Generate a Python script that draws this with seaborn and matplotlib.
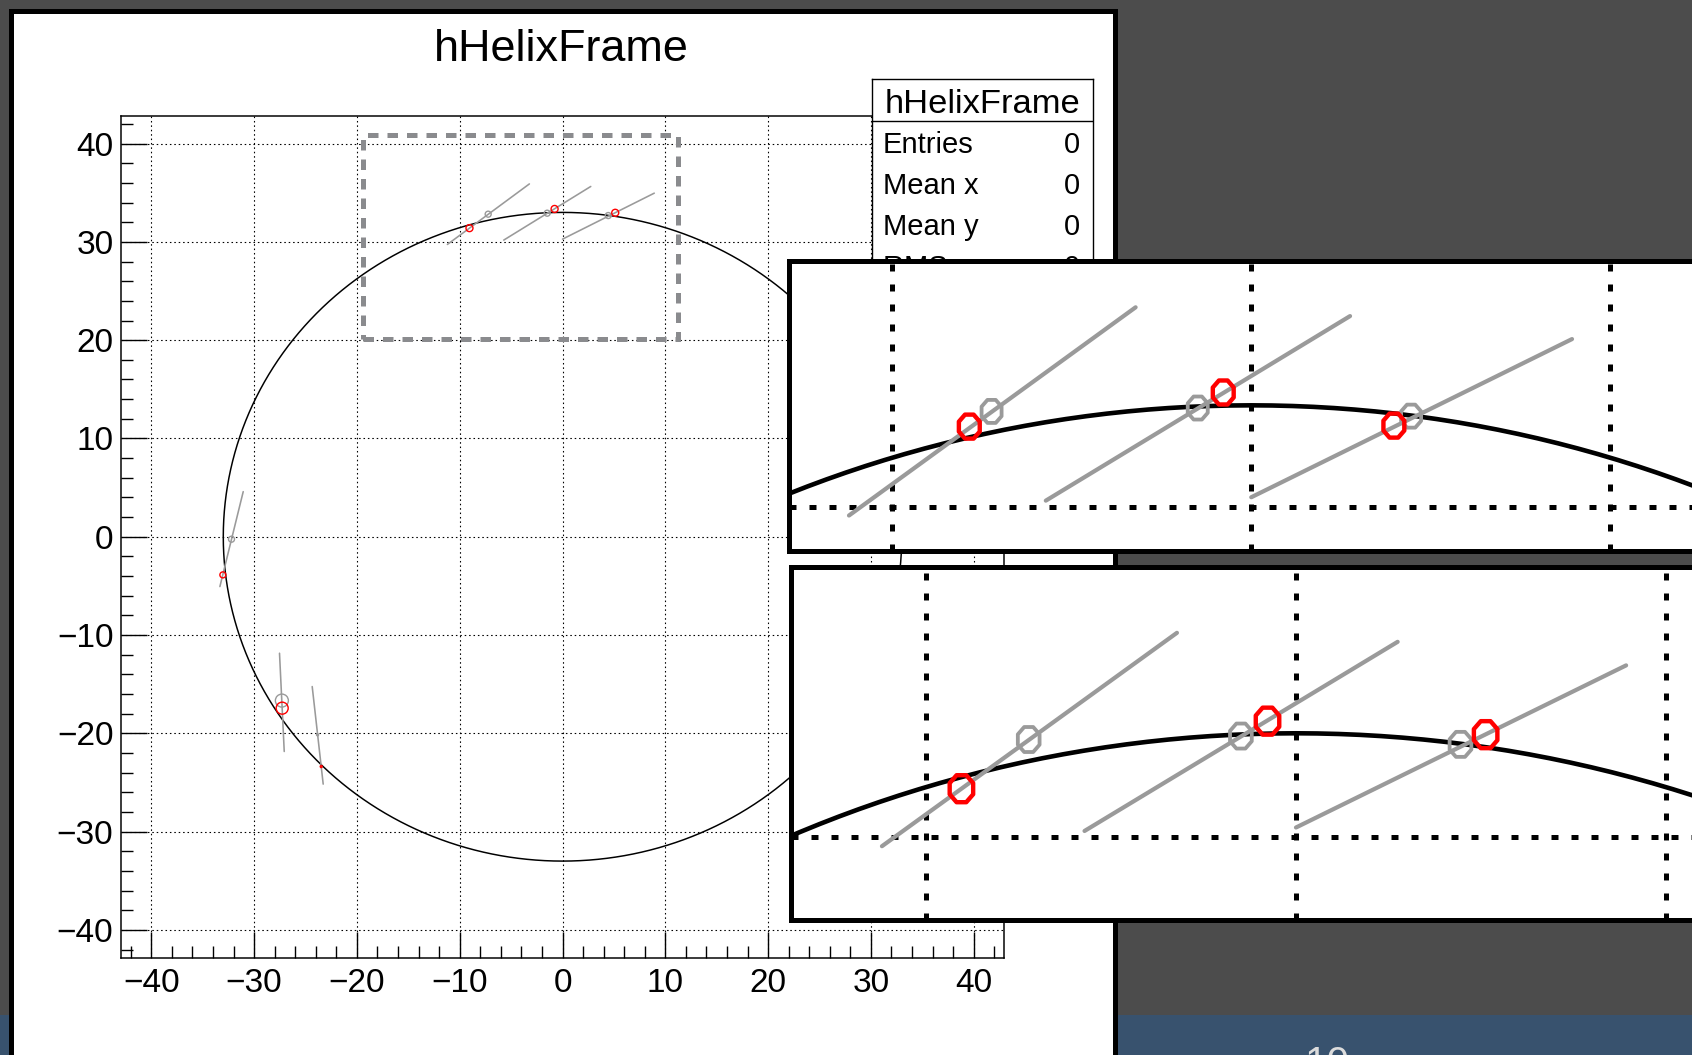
import numpy as np
import pandas as pd
import matplotlib
matplotlib.use("Agg")
import matplotlib.pyplot as plt
from matplotlib.patches import Rectangle
from matplotlib.path import Path
from matplotlib.ticker import MultipleLocator
import seaborn as sns

W, H = 1692, 1055

# ---------------- data ----------------
TITLE = "hHelixFrame"
X_TICKS = [-40, -30, -20, -10, 0, 10, 20, 30, 40]
Y_TICKS = [-40, -30, -20, -10, 0, 10, 20, 30, 40]
X_RANGE = (-42.95, 42.95)
Y_RANGE = (-42.86, 42.86)

HELIX_RADIUS = 33.0
HELIX_CENTER = (0.0, 0.0)

# grey track segments: start / end points
SEG_X0 = [-11.20, -5.72, 0.00, -31.06, -27.53, -24.35]
SEG_Y0 = [29.74, 30.18, 30.28, 4.59, -11.85, -15.24]
SEG_X1 = [-3.22, 2.75, 8.93, -33.33, -27.07, -23.28]
SEG_Y1 = [35.90, 35.64, 34.96, -5.07, -21.85, -25.17]

# grey hit markers
GREY_X = [-7.23, -1.49, 4.45, -32.20, -27.30, -23.83]
GREY_Y = [32.82, 32.92, 32.68, -0.25, -16.67, -20.15]

# red (helix-projected) markers, main view / lower inset
RED_X = [-9.05, -0.77, 5.13, -33.04, -27.27, -23.47]
RED_Y = [31.40, 33.35, 32.96, -3.88, -17.44, -23.38]

# red markers shown in the upper inset
RED_ALT_X = [-7.85, -0.78, 3.97]
RED_ALT_Y = [32.37, 33.38, 32.40]

# zoom box drawn on the main view
ZOOM_BOX_X = (-19.38, 11.27)
ZOOM_BOX_Y = (20.11, 40.87)

# inset view ranges
INSET1_XLIM = (-12.87, 13.05)
INSET1_YLIM = (28.69, 37.27)
INSET2_XLIM = (-13.66, 11.47)
INSET2_YLIM = (27.61, 37.80)
INSET_GRID_X = [-10, 0, 10]
INSET_GRID_Y = [30]

STATS_LABELS = ["Entries", "Mean x", "Mean y", "RMS x", "RMS y"]
STATS_VALUES = ["0", "0", "0", "0", "0"]
PAGE_NUMBER = "10"

# ---------------- style ----------------
sns.set_theme(style="white")
plt.rcParams["font.family"] = ["Liberation Sans", "DejaVu Sans"]
plt.rcParams["axes.unicode_minus"] = True

BG = "#4c4c4c"
BAR = "#38526e"
GREY = "#9a9a9a"
RED = "#ff0000"
PX = 0.72  # points per pixel at dpi 100

fig = plt.figure(figsize=(W / 100, H / 100), dpi=100, facecolor=BG)


def fbox(l, t, r, b):
    return [l / W, 1 - b / H, (r - l) / W, (b - t) / H]


def frect(l, t, r, b, **kw):
    x, y, w, h = fbox(l, t, r, b)
    p = Rectangle((x, y), w, h, transform=fig.transFigure, **kw)
    fig.add_artist(p)
    return p


# slide decorations
frect(0, 1015, W, H + 5, fc=BAR, ec="none", zorder=-6)
frect(10.5, 10.5, 1114.5, 1075, fc="white", ec="black", lw=5 * PX, zorder=-5)
fig.text(1327 / W, 1 - 1045 / H, PAGE_NUMBER, ha="center", va="top",
         color="#dcdcdc", fontsize=29, zorder=-4)

# title
fig.text(561 / W, 1 - 61 / H, TITLE, ha="center", va="baseline",
         fontsize=32.4, color="black")

# ---------------- main frame ----------------
theta = np.linspace(0, 2 * np.pi, 721)
circle_df = pd.DataFrame({
    "x": HELIX_CENTER[0] + HELIX_RADIUS * np.cos(theta),
    "y": HELIX_CENTER[1] + HELIX_RADIUS * np.sin(theta),
})
seg_df = pd.DataFrame({
    "x": [v for pair in zip(SEG_X0, SEG_X1) for v in pair],
    "y": [v for pair in zip(SEG_Y0, SEG_Y1) for v in pair],
    "seg": [i for i in range(len(SEG_X0)) for _ in (0, 1)],
})

ax = fig.add_axes(fbox(121, 115.5, 1004, 958), zorder=1)
ax.set_facecolor("white")
ax.set_xlim(X_RANGE)
ax.set_ylim(Y_RANGE)
ax.set_xticks(X_TICKS)
ax.set_yticks(Y_TICKS)
ax.xaxis.set_minor_locator(MultipleLocator(2))
ax.yaxis.set_minor_locator(MultipleLocator(2))
ax.set_axisbelow(True)
ax.grid(True, which="major", color="black", lw=1.1 * PX, ls=(0, (1.4, 2.6)))
ax.tick_params(which="both", direction="in", bottom=True, left=True,
               top=False, right=False, color="black", width=1.0,
               labelcolor="black")
ax.tick_params(which="major", length=26 * PX, labelsize=24)
ax.tick_params(which="minor", length=12 * PX)
ax.tick_params(axis="x", which="major", pad=7)
ax.tick_params(axis="y", which="major", pad=5.5)
for sp in ax.spines.values():
    sp.set_visible(True)
    sp.set_color("black")
    sp.set_linewidth(1.5 * PX)

sns.lineplot(data=circle_df, x="x", y="y", sort=False, estimator=None,
             color="black", lw=1.5 * PX, ax=ax, zorder=3)
sns.lineplot(data=seg_df, x="x", y="y", units="seg", estimator=None,
             sort=False, color=GREY, lw=1.6 * PX, ax=ax, zorder=4)

grey_d = [6, 6, 6, 6, 13, 2]
red_d = [7, 7, 7, 6, 12, 2]
sns.scatterplot(x=GREY_X, y=GREY_Y, marker="o", s=[(PX * d) ** 2 for d in grey_d],
                facecolor="none", edgecolor=GREY, linewidth=1.4 * PX, ax=ax, zorder=5)
sns.scatterplot(x=RED_X, y=RED_Y, marker="o", s=[(PX * d) ** 2 for d in red_d],
                facecolor="none", edgecolor=RED, linewidth=1.4 * PX, ax=ax, zorder=6)

ax.add_patch(Rectangle((ZOOM_BOX_X[0], ZOOM_BOX_Y[0]),
                       ZOOM_BOX_X[1] - ZOOM_BOX_X[0], ZOOM_BOX_Y[1] - ZOOM_BOX_Y[0],
                       fill=False, ec="#8a8b8e", lw=5 * PX, ls=(0, (2.1, 1.8)), zorder=7))
ax.set_xlabel("")
ax.set_ylabel("")

# ---------------- stats box ----------------
st = fig.add_axes(fbox(872, 79, 1093, 345), zorder=2)
st.set_facecolor("white")
st.set_xticks([])
st.set_yticks([])
for sp in st.spines.values():
    sp.set_visible(True)
    sp.set_color("black")
    sp.set_linewidth(1.0)
sep = (345 - 121) / (345 - 79)
st.plot([0, 1], [sep, sep], transform=st.transAxes, color="black", lw=1.0)
st.set_xlim(0, 1)
st.set_ylim(0, 1)
st.text(982 / W, 1 - 113 / H, TITLE, transform=fig.transFigure, ha="center",
        va="baseline", fontsize=24.8, color="black")
for i, (lab, val) in enumerate(zip(STATS_LABELS, STATS_VALUES)):
    yb = 153 + 41 * i
    st.text(883 / W, 1 - yb / H, lab, transform=fig.transFigure, ha="left",
            va="baseline", fontsize=21, color="black")
    st.text(1080 / W, 1 - yb / H, val, transform=fig.transFigure, ha="right",
            va="baseline", fontsize=21, color="black")

# ---------------- insets ----------------
ang = np.deg2rad(22.5 + 45 * np.arange(8))
oct_verts = np.column_stack([np.cos(ang), 1.15 * np.sin(ang)])
OCT = Path(np.vstack([oct_verts, oct_verts[:1]]), closed=True)


def make_inset(box, xlim, ylim, red_x, red_y, d_grey, d_red):
    a = fig.add_axes(fbox(*box), zorder=3)
    a.set_facecolor("white")
    a.set_xlim(xlim)
    a.set_ylim(ylim)
    a.set_xticks(INSET_GRID_X)
    a.set_yticks(INSET_GRID_Y)
    a.tick_params(length=0, labelbottom=False, labelleft=False)
    a.set_axisbelow(True)
    a.grid(True, color="black", lw=5 * PX, ls=(0, (1.4, 2.6)))
    for sp in a.spines.values():
        sp.set_visible(True)
        sp.set_color("black")
        sp.set_linewidth(5 * PX)
    sns.lineplot(data=circle_df, x="x", y="y", sort=False, estimator=None,
                 color="black", lw=4.6 * PX, ax=a, zorder=3)
    sns.lineplot(data=seg_df, x="x", y="y", units="seg", estimator=None,
                 sort=False, color=GREY, lw=4.2 * PX, ax=a, zorder=4)
    sns.scatterplot(x=GREY_X, y=GREY_Y, marker=OCT, s=(PX * d_grey) ** 2,
                    facecolor="none", edgecolor=GREY, linewidth=3.8 * PX,
                    ax=a, zorder=5)
    sns.scatterplot(x=red_x, y=red_y, marker=OCT, s=(PX * d_red) ** 2,
                    facecolor="none", edgecolor=RED, linewidth=4.4 * PX,
                    ax=a, zorder=6)
    a.set_xlim(xlim)
    a.set_ylim(ylim)
    a.set_xlabel("")
    a.set_ylabel("")
    return a


make_inset((789, 261, 1720, 551), INSET1_XLIM, INSET1_YLIM,
           RED_ALT_X, RED_ALT_Y, 23, 24)
make_inset((791, 567, 1720, 920), INSET2_XLIM, INSET2_YLIM,
           RED_X, RED_Y, 25, 27)

fig.savefig("out.png", dpi=100, facecolor=BG)
